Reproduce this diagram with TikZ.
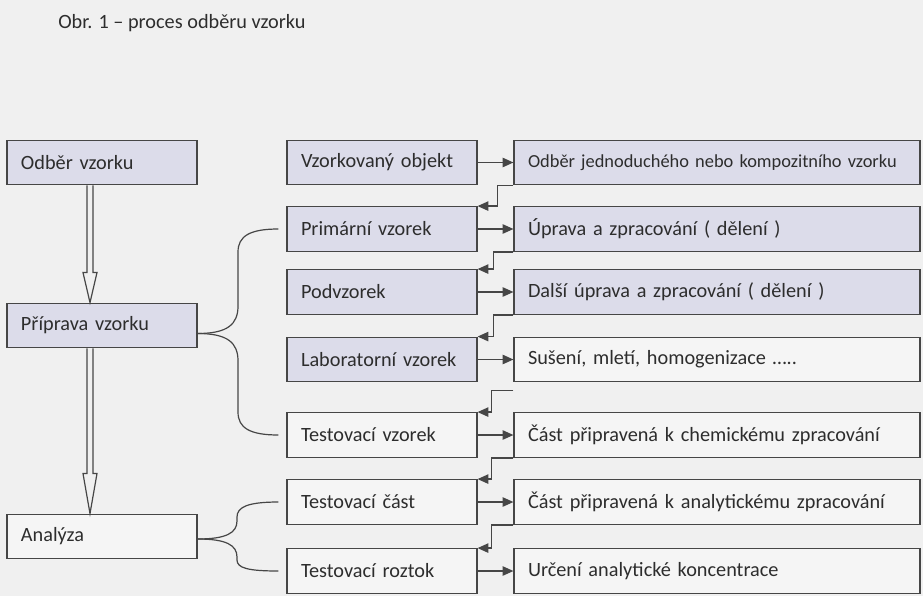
\documentclass[tikz,border=0pt]{standalone}
\usepackage{fontspec}
\setmainfont{Carlito}
\usetikzlibrary{arrows.meta,calc}
\definecolor{bg}{RGB}{240,240,240}
\definecolor{lav}{RGB}{220,220,234}
\definecolor{paper}{RGB}{245,245,245}
\definecolor{edge}{RGB}{70,70,70}
\definecolor{txt}{RGB}{45,45,45}
\newcommand{\FB}{\fontsize{15.2}{18}\selectfont}
\newcommand{\FS}{\fontsize{13.8}{16}\selectfont}
% hollow double arrow between two stacked boxes
\newcommand{\dblarrow}[3]{%
  \draw[hollow] ($(#1.south)+(-15,0)$) -- ($(#2.north)+(-15,-#3)$)
    -- ($(#2.north)+(-19,-#3)$) -- ($(#2.north)+(-12,0)$)
    -- ($(#2.north)+(-5,-#3)$) -- ($(#2.north)+(-9,-#3)$)
    -- ($(#1.south)+(-9,0)$);}

\begin{document}
\begin{tikzpicture}[x=0.75pt,y=-0.75pt]
\tikzstyle{box}=[draw=edge,line width=0.9pt,minimum height=33.5pt,inner xsep=10.5pt,align=left,text=txt,font=\FB]
\tikzstyle{sbox}=[box,text width=121.5pt]
\tikzstyle{wbox}=[box,text width=283.5pt]
\tikzstyle{lav}=[fill=lav]
\tikzstyle{wht}=[fill=paper]
\tikzstyle{line}=[draw=edge,line width=0.9pt]
\tikzstyle{arr}=[line,-{Triangle[length=8pt,width=7pt]}]
\tikzstyle{hollow}=[draw=edge,fill=bg,line width=0.9pt,line join=miter]

\fill[bg] (0,0) rectangle (923,596);
\useasboundingbox (0,0) rectangle (923,596);

\node[text=txt,font=\FB,anchor=base west,inner sep=0pt] (title) at (58,28) {Obr. 1 -- proces odběru vzorku};

% left column
\node[sbox,lav] (odber)    at (102,162.5) {Odběr vzorku};
\node[sbox,lav] (priprava) at (102,325.5) {Příprava vzorku};
\node[sbox,wht] (analyza)  at (102,536.5) {Analýza};

% middle column
\node[sbox,lav] (objekt)    at (382,162.5) {Vzorkovaný objekt};
\node[sbox,lav] (primarni)  at (382,229)   {Primární vzorek};
\node[sbox,lav] (podvzorek) at (382,292)   {Podvzorek};
\node[sbox,lav] (labvz)     at (382,359.5) {Laboratorní vzorek};
\node[sbox,wht] (testvz)    at (382,435)   {Testovací vzorek};
\node[sbox,wht] (testcast)  at (382,502)   {Testovací část};
\node[sbox,wht] (roztok)    at (382,571)   {Testovací roztok};

% right column
\node[wbox,lav,font=\FS] (odberjedn) at (717,162.5) {Odběr jednoduchého nebo kompozitního vzorku};
\node[wbox,lav] (uprava)    at (717,229)   {Úprava a zpracování ( dělení )};
\node[wbox,lav] (dalsi)     at (717,292)   {Další úprava a zpracování ( dělení )};
\node[wbox,wht] (suseni)    at (717,359.5) {Sušení, mletí, homogenizace …..};
\node[wbox,wht] (chem)      at (717,435)   {Část připravená k chemickému zpracování};
\node[wbox,wht] (anal)      at (717,502)   {Část připravená k analytickému zpracování};
\node[wbox,wht] (urceni)    at (717,571)   {Určení analytické koncentrace};

% hollow arrows
\dblarrow{odber}{priprava}{30}
\dblarrow{priprava}{analyza}{40}

% forward arrows
\draw[arr] (objekt.east)    -- (odberjedn.west);
\draw[arr] (primarni.east)  -- (uprava.west);
\draw[arr] (podvzorek.east) -- (dalsi.west);
\draw[arr] (labvz.east)     -- (suseni.west);
\draw[arr] (testvz.east)    -- (chem.west);
\draw[arr] (testcast.east)  -- (anal.west);
\draw[arr] (roztok.east)    -- (urceni.west);

% back arrows
\draw[arr] (odberjedn.south west) -- ++(-16,0) |- (primarni.north east);
\draw[arr] (uprava.south west) -- ++(-20,0) |- (podvzorek.north east);
\draw[arr] (dalsi.south west) -- ++(-20,0) |- (labvz.north east);
\draw[arr] ($(suseni.south west)+(0,8)$) -- ++(-22,0) |- (testvz.north east);
\draw[arr] (chem.south west) -- ++(-22,0) |- (testcast.north east);
\draw[arr] (anal.south west) -- ++(-22,0) |- (roztok.north east);

% braces
\draw[line] ($(priprava.east)+(0,8)$) .. controls (228,333.5) and (238,324) .. (238,306)
  -- (238,252) .. controls (238,236) and (250,229) .. ($(primarni.west)+(-8,0)$);
\draw[line] ($(priprava.east)+(0,8)$) .. controls (228,333.5) and (238,343) .. (238,361)
  -- (238,412) .. controls (238,428) and (250,435) .. ($(testvz.west)+(-8,0)$);
\draw[line] ($(analyza.east)+(0,2.5)$) .. controls (226,539) and (237,533) .. (237,521)
  -- (237,517) .. controls (237,507) and (248,502) .. ($(testcast.west)+(-8,0)$);
\draw[line] ($(analyza.east)+(0,2.5)$) .. controls (226,539) and (237,545) .. (237,557)
  -- (237,560) .. controls (237,568) and (248,571) .. ($(roztok.west)+(-8,0)$);
\end{tikzpicture}
\end{document}
